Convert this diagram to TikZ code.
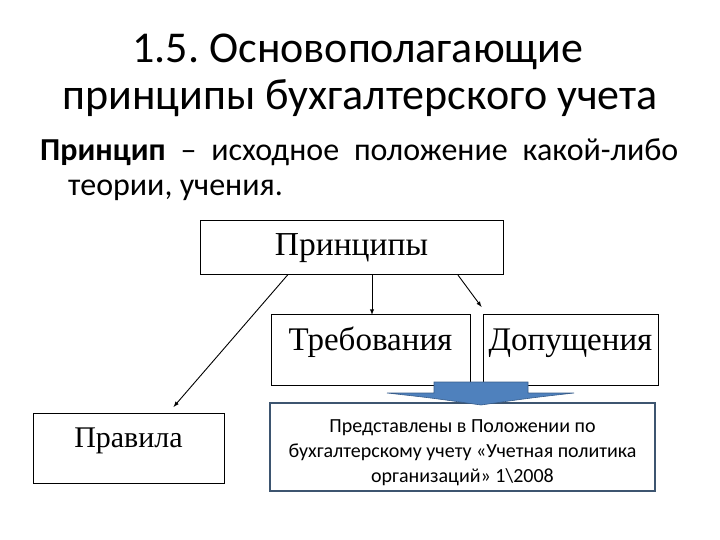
\documentclass[tikz,border=0pt]{standalone}
\usepackage{fontspec}
\setmainfont{Carlito}
\newfontfamily\tnr{Liberation Serif}
\usepackage{tikz}
\usetikzlibrary{calc}
\usetikzlibrary{arrows}

\definecolor{arrblue}{HTML}{4F81BD}
\definecolor{arrline}{HTML}{385D8A}
\definecolor{predline}{HTML}{3D5570}

\begin{document}
\frenchspacing
\begin{tikzpicture}[x=1pt, y=-1pt,
  box/.style={draw, line width=0.9pt, inner sep=0pt, font=\tnr\fontsize{33}{36}\selectfont},
  arr/.style={-latex, line width=0.9pt}]
\useasboundingbox (0,0) rectangle (720,540);

\node[anchor=base] (t1) at (358, 63) {\fontsize{44}{50}\selectfont 1.5. Основополагающие};
\node[anchor=base] (t2) at (360, 110) {\fontsize{44}{50}\selectfont принципы бухгалтерского учета};

\node[anchor=base west, inner sep=0pt] (def1) at (40, 161) {\fontsize{32}{36}\selectfont\makebox[638pt][s]{\textbf{Принцип} – исходное положение какой-либо}};
\node[anchor=base west, inner sep=0pt] (def2) at (68, 196) {\fontsize{32}{36}\selectfont теории, учения.};

\node[box, anchor=north, minimum width=303pt, text height=35pt, text depth=19pt, font=\tnr\fontsize{33.5}{36}\selectfont] (princ) at (351.5, 220) {Принципы};
\node[box, anchor=north, minimum width=199pt, text height=36pt, text depth=35pt] (treb) at (370.5, 314) {Требования};
\node[box, anchor=north, minimum width=175pt, text height=36pt, text depth=35pt] (dop) at (570.5, 314) {Допущения};
\node[box, anchor=north, minimum width=191pt, text height=34pt, text depth=36pt, font=\tnr\fontsize{30}{34}\selectfont] (prav) at (128.5, 413) {Правила};

\node[draw=predline, fill=white, line width=1.8pt, anchor=north, minimum width=385pt, minimum height=88pt, align=center, font=\fontsize{20}{25}\selectfont] (pred) at (462.5, 402) {\rule{0pt}{24pt}Представлены в Положении по\\бухгалтерскому учету «Учетная политика\\организаций» 1\textbackslash2008};

\draw[arr] ($(princ.south west)!0.29!(princ.south east)$) -- ($(prav.north)+(45,-6)$);
\draw[arr] (princ.south -| treb.north) ++(1.5,0) -- ++(0,40);
\draw[arr] ($(princ.south west)!0.85!(princ.south east)$) -- ($(dop.north west)+(-1,-7)$);

% blue arrow into the lower box
\filldraw[fill=arrblue, draw=arrline, line width=0.6pt] (434,382) -- (528,382) -- (528,393) -- (574,393) .. controls (530,398) .. (481,405) .. controls (432,398) .. (387,393) -- (434,393) -- cycle;

\end{tikzpicture}
\end{document}
